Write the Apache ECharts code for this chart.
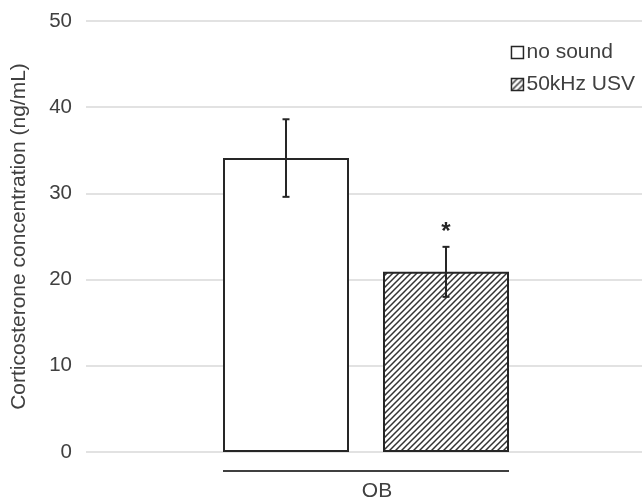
<!DOCTYPE html>
<html>
<head>
<meta charset="utf-8">
<script src="https://cdn.jsdelivr.net/npm/echarts@6/dist/echarts.min.js"></script>
<style>
  html, body { margin: 0; padding: 0; background: #fff; }
  #chart { width: 642px; height: 500px; }
</style>
</head>
<body>
<div id="chart"></div>
<script>
// Corticosterone concentration, OB group, by sound condition
const categories = ['OB'];
const seriesNames = ['no sound', '50kHz USV'];
const noSound = [34.1];
const noSoundErr = [4.5];
const usv = [20.9];
const usvErr = [2.9];
const significance = ['', '*'];
const yTicks = [0, 10, 20, 30, 40, 50];

const BAR_W = 126;
const BAR_GAP = 34;
const INK = '#262626';
const TEXT = '#404040';
const FONT = '"Liberation Sans", Arial, sans-serif';

// diagonal hatch tile
function hatchPattern() {
  const s = 6;
  const c = document.createElement('canvas');
  c.width = s; c.height = s;
  const g = c.getContext('2d');
  g.fillStyle = '#fff';
  g.fillRect(0, 0, s, s);
  g.strokeStyle = '#333';
  g.lineWidth = 1.5;
  g.beginPath();
  g.moveTo(0, s); g.lineTo(s, 0);
  g.moveTo(-s / 2, s / 2); g.lineTo(s / 2, -s / 2);
  g.moveTo(s / 2, s * 1.5); g.lineTo(s * 1.5, s / 2);
  g.stroke();
  return { image: c, repeat: 'repeat' };
}

const chart = echarts.init(document.getElementById('chart'));

const groups = [
  { values: noSound, errs: noSoundErr, side: -1, mark: significance[0] },
  { values: usv, errs: usvErr, side: 1, mark: significance[1] }
];

const errData = [];
groups.forEach((grp) => {
  grp.values.forEach((v, ci) => {
    errData.push([ci, v, grp.errs[ci], grp.side, grp.mark]);
  });
});

function renderErr(params, api) {
  const ci = api.value(0);
  const v = api.value(1);
  const e = api.value(2);
  const side = api.value(3);
  const mark = errData[params.dataIndex][4];
  const off = side * (BAR_W + BAR_GAP) / 2;
  const top = api.coord([ci, v + e]);
  const bot = api.coord([ci, v - e]);
  const x = top[0] + off;
  const cap = 3.5;
  const style = { stroke: INK, lineWidth: 2 };
  const children = [
    { type: 'line', shape: { x1: x, y1: top[1], x2: x, y2: bot[1] }, style },
    { type: 'line', shape: { x1: x - cap, y1: top[1], x2: x + cap, y2: top[1] }, style },
    { type: 'line', shape: { x1: x - cap, y1: bot[1], x2: x + cap, y2: bot[1] }, style }
  ];
  if (mark) {
    children.push({
      type: 'text',
      style: {
        text: mark, x: x, y: top[1] - 2,
        textAlign: 'center', textVerticalAlign: 'bottom',
        font: 'bold 24px ' + FONT, fill: INK
      }
    });
  }
  return { type: 'group', children };
}

// bracket line under the category group
function renderBracket(params, api) {
  const ci = api.value(0);
  const base = api.coord([ci, 0]);
  const half = BAR_W + BAR_GAP / 2;
  return {
    type: 'line',
    shape: { x1: base[0] - half, y1: base[1] + 19, x2: base[0] + half, y2: base[1] + 19 },
    style: { stroke: '#404040', lineWidth: 2 }
  };
}

chart.setOption({
  animation: false,
  textStyle: { fontFamily: FONT },
  grid: { left: 86, right: -4, top: 21, bottom: 48, outerBoundsMode: 'none' },
  legend: {
    data: seriesNames,
    orient: 'vertical',
    right: 2,
    top: 37,
    itemGap: 11,
    itemWidth: 12,
    itemHeight: 12,
    icon: 'rect',
    itemStyle: { borderWidth: 1.5, borderColor: INK },
    textStyle: { fontSize: 21, color: TEXT, padding: [0, 0, 0, -2] }
  },
  xAxis: {
    type: 'category',
    data: categories,
    axisLine: { show: false },
    axisTick: { show: false },
    axisLabel: { fontSize: 21, color: TEXT, margin: 29, padding: [0, 0, 0, 22] }
  },
  yAxis: {
    type: 'value',
    min: yTicks[0],
    max: yTicks[yTicks.length - 1],
    interval: 10,
    name: 'Corticosterone concentration (ng/mL)',
    nameLocation: 'middle',
    nameGap: 56,
    nameTextStyle: { fontSize: 21, color: TEXT },
    axisLine: { show: false },
    axisTick: { show: false },
    axisLabel: { fontSize: 20.5, color: TEXT, margin: 14 },
    splitLine: { lineStyle: { color: '#d9d9d9', width: 1.5 } }
  },
  series: [
    {
      name: seriesNames[0],
      type: 'bar',
      data: noSound,
      barWidth: BAR_W,
      barGap: (BAR_GAP / BAR_W * 100) + '%',
      itemStyle: { color: '#ffffff', borderColor: INK, borderWidth: 2 }
    },
    {
      name: seriesNames[1],
      type: 'bar',
      data: usv,
      barWidth: BAR_W,
      itemStyle: { color: hatchPattern(), borderColor: INK, borderWidth: 2 }
    },
    {
      type: 'custom',
      data: errData,
      renderItem: renderErr,
      z: 5,
      silent: true
    },
    {
      type: 'custom',
      data: categories.map((c, i) => [i]),
      renderItem: renderBracket,
      clip: false,
      silent: true
    }
  ]
});
</script>
</body>
</html>
